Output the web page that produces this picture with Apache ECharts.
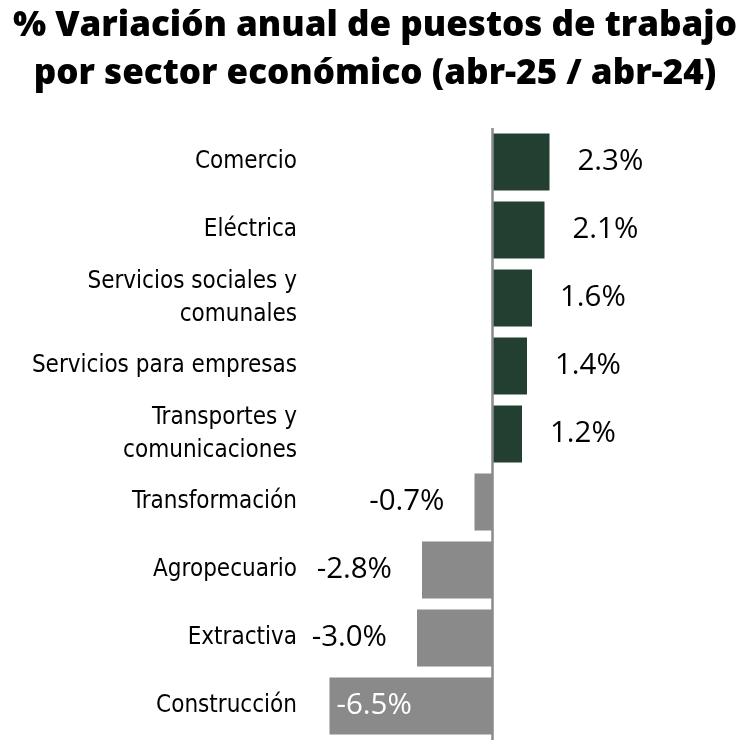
<!DOCTYPE html>
<html><head><meta charset="utf-8">
<script src="https://cdn.jsdelivr.net/npm/echarts@6/dist/echarts.min.js"></script>
<style>html,body{margin:0;padding:0;background:#fff}#c{width:750px;height:750px}</style>
</head><body><div id="c"></div>
<script>
const categories = ['Comercio','Eléctrica','Servicios sociales y\ncomunales','Servicios para empresas','Transportes y\ncomunicaciones','Transformación','Agropecuario','Extractiva','Construcción'];
const values = [2.3, 2.1, 1.6, 1.4, 1.2, -0.7, -2.8, -3.0, -6.5];
const titleText = '% Variación anual de puestos de trabajo\npor sector económico (abr-25 / abr-24)';

const green = '#223f31', gray = '#8a8a8a';
const data = values.map(function(v, i){
  const item = {value: v, itemStyle: {color: v >= 0 ? green : gray}};
  if (v >= 0) item.label = {position: 'right', distance: 28};
  else if (v > -5) item.label = {position: 'left', distance: 30};
  else item.label = {position: 'insideLeft', distance: 7, color: '#ffffff'};
  return item;
});

const chart = echarts.init(document.getElementById('c'));
chart.setOption({
  animation: false,
  backgroundColor: '#ffffff',
  title: {
    text: titleText, left: 'center', top: -3,
    textStyle: {fontFamily: 'Open Sans', fontWeight: 800, fontSize: 35, lineHeight: 48, color: '#000'}
  },
  grid: {left: 317, right: 158, top: 128, bottom: 10, containLabel: false},
  xAxis: {type: 'value', min: -7, max: 4, show: false},
  yAxis: {
    type: 'category', data: categories, inverse: true,
    axisLine: {show: false}, axisTick: {show: false}, splitLine: {show: false},
    axisLabel: {margin: 20, fontFamily: "'Liberation Sans Narrow', 'DejaVu Sans Condensed', 'Liberation Sans'", fontSize: 24, lineHeight: 33, color: '#000', align: 'right'}
  },
  series: [{
    type: 'bar', data: data, barWidth: '84%',
    label: {show: true, fontFamily: 'Open Sans', fontSize: 29.5, color: '#000',
      formatter: function(p){ return p.value.toFixed(1) + '%'; }},
    markLine: {silent: true, symbol: 'none', label: {show: false},
      lineStyle: {color: '#8a8a8a', width: 2.5, type: 'solid'},
      data: [{xAxis: 0}]}
  }]
});
</script></body></html>
